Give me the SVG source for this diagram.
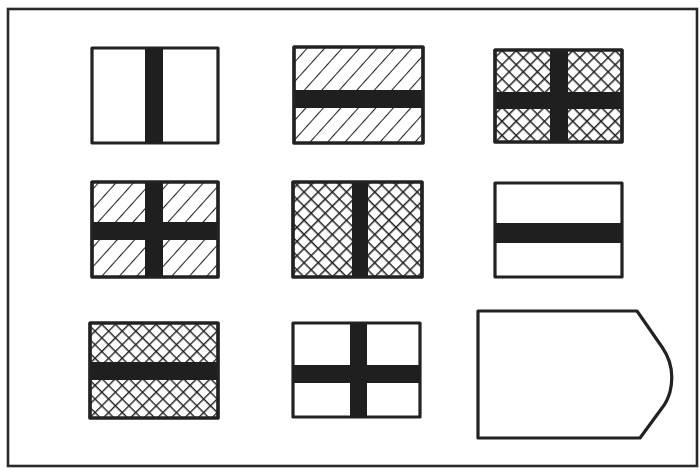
<svg xmlns="http://www.w3.org/2000/svg" width="700" height="470" viewBox="0 0 700 470">
<defs>
<pattern id="hatch" patternUnits="userSpaceOnUse" width="13" height="13" patternTransform="rotate(42)">
<line x1="0" y1="-1" x2="0" y2="14" stroke="#222" stroke-width="2.1"/>
</pattern>
<pattern id="cross" patternUnits="userSpaceOnUse" width="10" height="10" patternTransform="rotate(45)">
<line x1="0" y1="-1" x2="0" y2="11" stroke="#222" stroke-width="3"/>
<line x1="-1" y1="0" x2="11" y2="0" stroke="#222" stroke-width="3"/>
</pattern>
<pattern id="cross2" patternUnits="userSpaceOnUse" width="9.6" height="9.6" patternTransform="rotate(45) translate(3 3)">
<line x1="0" y1="-1" x2="0" y2="11" stroke="#222" stroke-width="2.8"/>
<line x1="-1" y1="0" x2="11" y2="0" stroke="#222" stroke-width="2.8"/>
</pattern>
</defs>
<style>
.box{stroke:#222;stroke-width:3.2;stroke-linejoin:round}
.bar{fill:#1f1f1f}
.frame{fill:#fff;stroke:#2a2a2a;stroke-width:2.6}
</style>
<rect x="0" y="0" width="700" height="470" fill="#fff"/>
<rect class="frame" x="8" y="9" width="689" height="457"/>

<g id="p1">
<rect class="box" x="92" y="48" width="126" height="95" fill="#fff"/>
<rect class="bar" x="145" y="48" width="18" height="95"/>
</g>

<g id="p2">
<rect class="box" x="294" y="47" width="129" height="96" fill="url(#hatch)"/>
<rect class="bar" x="294" y="90" width="129" height="18"/>
<rect x="294" y="47" width="129" height="96" fill="none" class="box"/>
</g>

<g id="p3">
<rect class="box" x="495" y="50" width="127" height="92" fill="url(#cross)"/>
<rect class="bar" x="550" y="50" width="18" height="92"/>
<rect class="bar" x="495" y="92" width="127" height="17"/>
<rect x="495" y="50" width="127" height="92" fill="none" class="box"/>
</g>

<g id="p4">
<rect class="box" x="92" y="182" width="126" height="95" fill="url(#hatch)"/>
<rect class="bar" x="145" y="182" width="18" height="95"/>
<rect class="bar" x="92" y="222" width="126" height="18"/>
<rect x="92" y="182" width="126" height="95" fill="none" class="box"/>
</g>

<g id="p5">
<rect class="box" x="293" y="182" width="129" height="95" fill="url(#cross)"/>
<rect class="bar" x="352" y="182" width="16" height="95"/>
<rect x="293" y="182" width="129" height="95" fill="none" class="box"/>
</g>

<g id="p6">
<rect class="box" x="495" y="183" width="127" height="94" fill="#fff"/>
<rect class="bar" x="495" y="223" width="127" height="20"/>
</g>

<g id="p7">
<rect class="box" x="90" y="323" width="128" height="95" fill="url(#cross2)"/>
<rect class="bar" x="90" y="362" width="128" height="18"/>
<rect x="90" y="323" width="128" height="95" fill="none" class="box"/>
</g>

<g id="p8">
<rect class="box" x="293" y="323" width="127" height="94" fill="#fff"/>
<rect class="bar" x="350" y="323" width="17" height="94"/>
<rect class="bar" x="293" y="365" width="127" height="18"/>
</g>

<g id="p9">
<path class="box" fill="#fff" d="M478 311 L637 311 L662 347 Q676 367 670 392 Q667 402 662 408 L640 438 L478 438 Z"/>
</g>
</svg>
